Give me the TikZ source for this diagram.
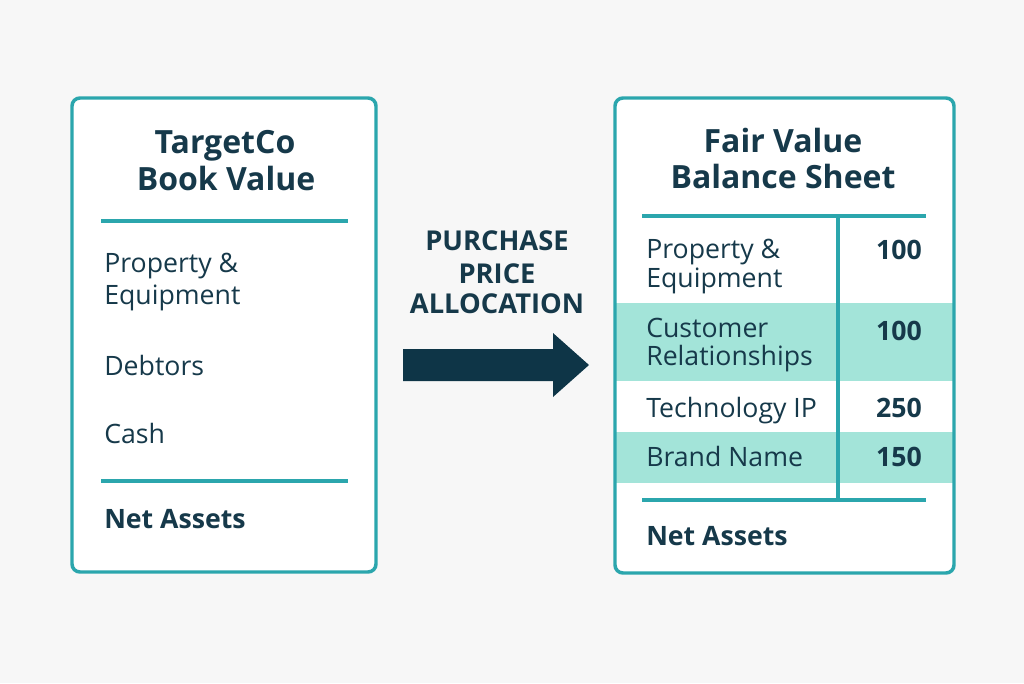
\documentclass[tikz,border=0pt]{standalone}
\usepackage{fontspec}
\setmainfont{Open Sans}
\definecolor{bg}{HTML}{F7F7F7}
\definecolor{teal}{HTML}{2BA6AD}
\definecolor{band}{HTML}{A3E4D9}
\definecolor{ink}{HTML}{16394A}
\definecolor{arrowc}{HTML}{0E3547}
\tikzset{
  boxline/.style={draw=teal, line width=2.6pt, rounded corners=6pt},
  rule/.style={draw=teal, line width=2.6pt},
  ttl/.style={font=\fontsize{24}{28}\selectfont\bfseries, text=ink, inner sep=0pt, anchor=base},
  body/.style={font=\fontsize{20}{24}\selectfont, text=ink, inner sep=0pt, anchor=base west},
  bodyb/.style={font=\fontsize{20}{24}\selectfont\bfseries, text=ink, inner sep=0pt, anchor=base west},
  num/.style={font=\fontsize{20}{24}\selectfont\bfseries, text=ink, inner sep=0pt, anchor=base east},
  mid/.style={font=\fontsize{20.5}{24}\selectfont\bfseries, text=ink, inner sep=0pt, anchor=base},
}
\begin{document}
\begin{tikzpicture}[x=0.75pt,y=-0.75pt]
\fill[bg] (0,0) rectangle (1024,683);
\useasboundingbox (0,0) rectangle (1024,683);

% ---------- left box ----------
\fill[white, rounded corners=6pt] (72,98) rectangle (376,572);
\draw[boxline] (72,98) rectangle (376,572);
\node[ttl] (lt1) at (225,153) {TargetCo};
\node[ttl] (lt2) at (226,190) {Book Value};
\draw[rule] (101,221) -- (348,221);
\node[body] (lp1) at (104,272) {Property \&};
\node[body] (lp2) at (104,304) {Equipment};
\node[body] (ld) at (104,375) {Debtors};
\node[body] (lc) at (104,443) {Cash};
\draw[rule] (101,481) -- (348,481);
\node[bodyb] (ln) at (104,528) {Net Assets};

% ---------- middle ----------
\node[mid] (m1) at (497,250) {PURCHASE};
\node[mid] (m2) at (497,283) {PRICE};
\node[mid] (m3) at (497,313) {ALLOCATION};
\fill[arrowc] (403,349) -- (553,349) -- (553,333) -- (589,365) -- (553,397) -- (553,381) -- (403,381) -- cycle;

% ---------- right box ----------
\fill[white, rounded corners=6pt] (615,98) rectangle (954,573);
\fill[band] (615,303) rectangle (954,381);
\fill[band] (615,432) rectangle (954,483);
\draw[boxline] (615,98) rectangle (954,573);
\node[ttl] (rt1) at (783,152) {Fair Value};
\node[ttl] (rt2) at (783,188) {Balance Sheet};
\draw[rule] (642,216) -- (926,216);
\draw[rule] (838,216) -- (838,498);
\draw[rule] (642,500) -- (926,500);
\node[body] (rp1) at (646,258) {Property \&};
\node[body] (rp2) at (646,287) {Equipment};
\node[num] (rv1) at (922,259) {100};
\node[body] (rc1) at (646,337) {Customer};
\node[body] (rc2) at (646,365) {Relationships};
\node[num] (rv2) at (922,340) {100};
\node[body] (rtip) at (646,417) {Technology IP};
\node[num] (rv3) at (922,417) {250};
\node[body] (rb) at (646,466) {Brand Name};
\node[num] (rv4) at (922,466) {150};
\node[bodyb] (rn) at (646,545) {Net Assets};
\end{tikzpicture}
\end{document}
